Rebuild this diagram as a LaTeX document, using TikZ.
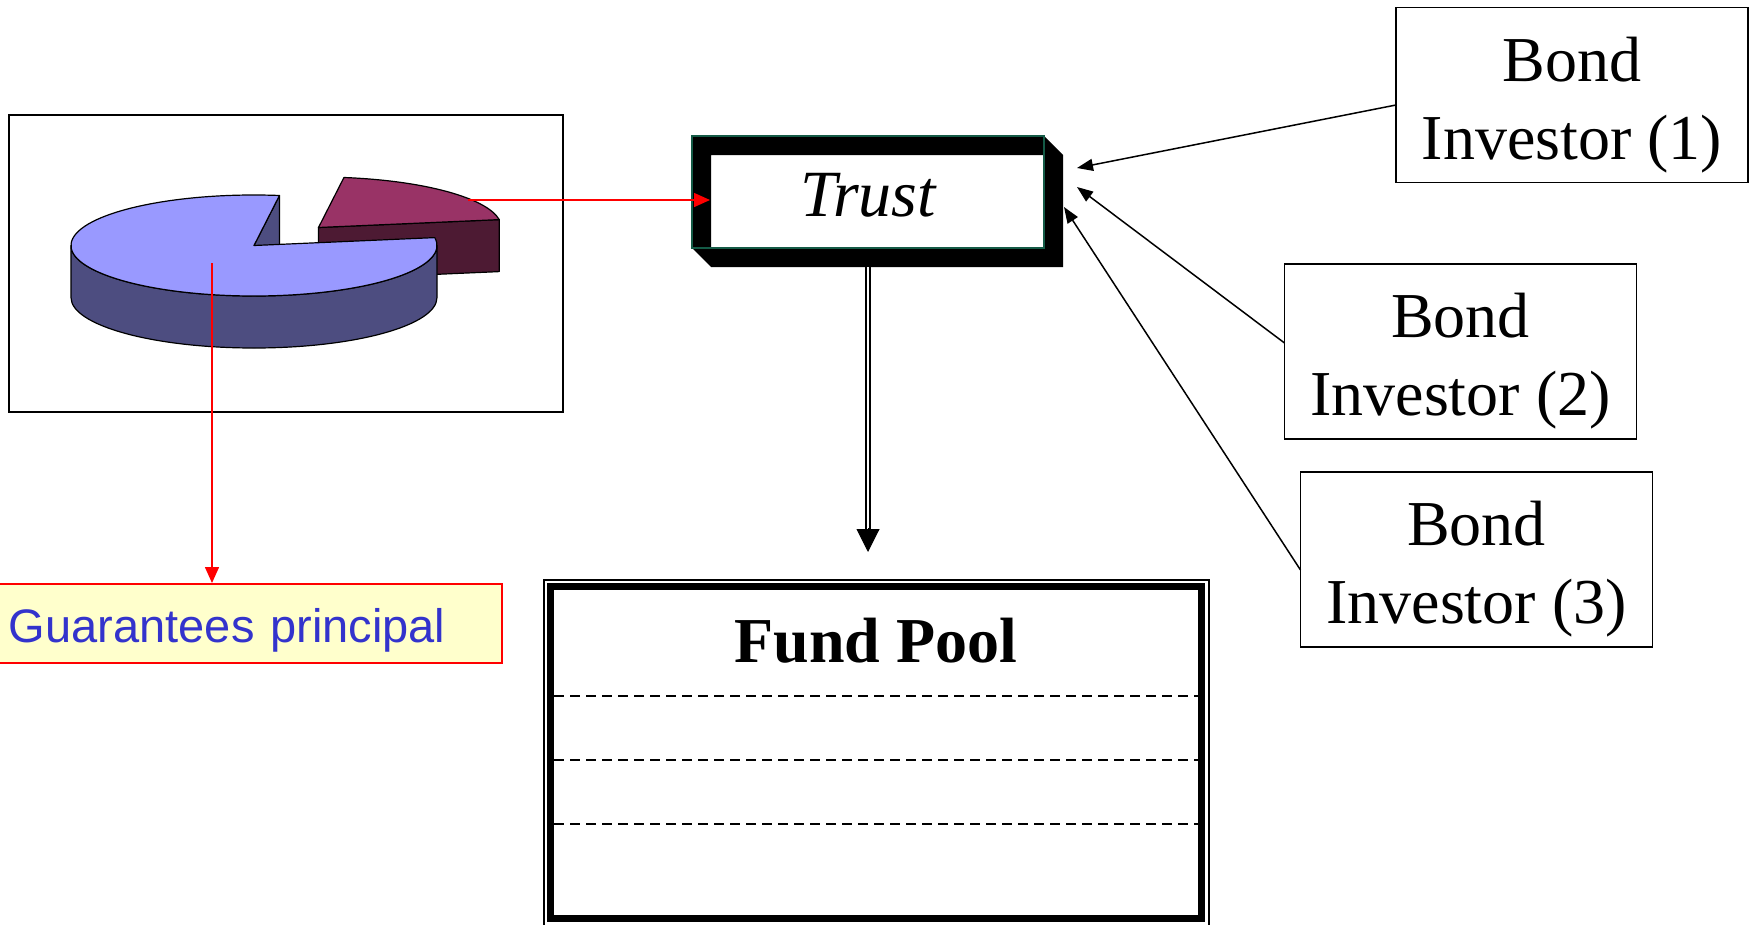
\documentclass[tikz,border=0pt]{standalone}
\usepackage{fontspec}
\setmainfont{Liberation Serif}
\newfontfamily\arialfont{Liberation Sans}
\usetikzlibrary{arrows.meta}

\definecolor{slicetop}{RGB}{153,153,255}
\definecolor{sliceside}{RGB}{77,77,128}
\definecolor{wedgetop}{RGB}{153,51,102}
\definecolor{wedgeside}{RGB}{77,26,51}
\definecolor{trustrim}{RGB}{20,90,70}
\definecolor{notefill}{RGB}{255,255,204}
\definecolor{notetext}{RGB}{51,51,204}

\tikzset{
  bigtext/.style={font=\fontsize{64}{78}\selectfont},
  chartframe/.style={draw, line width=1.2pt, minimum width=554pt, minimum height=297pt, inner sep=0pt, outer sep=0pt},
  investor/.style={draw, line width=1.5pt, minimum width=352pt, minimum height=175pt, inner sep=0pt, outer sep=0pt},
  investorlabel/.style={bigtext, align=center, inner sep=0pt},
  trustbox/.style={minimum width=352pt, minimum height=112pt, inner sep=0pt, outer sep=0pt,
    text height=48pt, text depth=0pt, font=\fontsize{66}{78}\selectfont\itshape},
  pool/.style={draw, line width=7pt, minimum width=651pt, minimum height=332pt, inner sep=0pt, outer sep=0pt},
  pooltitle/.style={anchor=base, inner sep=0pt, font=\fontsize{64}{78}\selectfont\bfseries},
  poolrule/.style={line width=2pt, dash pattern=on 10pt off 6pt},
  note/.style={draw=red, line width=2pt, fill=notefill, text=notetext, font=\arialfont\fontsize{47}{57}\selectfont,
    minimum height=79pt, text width=480pt, align=left, inner xsep=13pt, text height=37pt, text depth=0pt},
  redflow/.style={red, line width=1.5pt, -{Triangle[length=16pt,width=14pt]}},
  bondflow/.style={line width=1.5pt, -{Triangle[length=16pt,width=12pt]}},
  fundshaft/.style={line width=2pt, double, double distance=2.7pt},
  fundtip/.style={line width=1pt, -{Triangle[length=23pt,width=23pt]}},
}

\begin{document}
\begin{tikzpicture}[x=1pt,y=-1pt]
\useasboundingbox (0,0) rectangle (1754,924);

% chart with the pulled-out slice
\node[chartframe] (chart) at (286,263.5) {};
\begin{scope}[shift={(254,245.5)}, yscale=-1, line width=1.2pt, line join=round]
  \begin{scope}[shift={(64.5,18)}]
    \filldraw[fill=wedgeside] (0,0) -- (9:183 and 50.5) -- ++(0,-52) -- (0,-52) -- cycle;
    \filldraw[fill=wedgetop] (0,0) -- (9:183 and 50.5) arc[start angle=9, end angle=82, x radius=183, y radius=50.5] -- cycle;
  \end{scope}
  \filldraw[fill=sliceside] (0,0) -- (82:183 and 50.5) -- ++(0,-52) -- (0,-52) -- cycle;
  \filldraw[fill=sliceside] (-183,0) -- (-183,-52) arc[start angle=180, end angle=360, x radius=183, y radius=50.5]
    -- (183,0) arc[start angle=0, end angle=-180, x radius=183, y radius=50.5] -- cycle;
  \filldraw[fill=slicetop] (0,0) -- (82:183 and 50.5) arc[start angle=82, end angle=369, x radius=183, y radius=50.5] -- cycle;
\end{scope}
\coordinate (slicept) at (468,200);
\coordinate (piept) at (212,263);

\node[note, anchor=west] (guar) at (-5,623.5) {Guarantees principal};

% trust with its bevelled frame
\node[trustbox] (trust) at (868,192) {Trust};
\fill (trust.north west) -- (trust.north east) -- ++(0,19) -| ([shift={(19,0)}]trust.south west) -- (trust.south west) -- cycle;
\fill (trust.south west) -- ++(19,19) -| ([shift={(19,19)}]trust.north east) -- (trust.north east) -- (trust.south east) -- cycle;
\draw[trustrim, line width=1.5pt] (trust.north west) rectangle (trust.south east);
\coordinate (trustin) at (710,200);

% fund pool
\node[pool] (pool) at (876,752.5) {};
\draw[line width=2pt] ([shift={(-7,-7)}]pool.north west) rectangle ([shift={(7,7)}]pool.south east);
\node[pooltitle] (pooltitle) at ([shift={(0,75.5)}]pool.north) {Fund Pool};
\foreach \y in {696,760,824}
  \draw[poolrule] (554,\y) -- (1198,\y);
\coordinate (pooltip) at (868,552);

% bond investors
\node[investor] (inv1) at (1572,95) {};
\node[investor] (inv2) at (1460.5,351.5) {};
\node[investor] (inv3) at (1476.5,559.5) {};
\node[investorlabel] (inv1text) at ([shift={(0,10)}]inv1.center) {Bond\\Investor (1)};
\node[investorlabel] (inv2text) at ([shift={(0,10)}]inv2.center) {Bond\\Investor (2)};
\node[investorlabel] (inv3text) at ([shift={(0,10)}]inv3.center) {Bond\\Investor (3)};

% flows
\draw[redflow] (slicept) -- (trustin);
\draw[redflow] (piept) -- (piept |- guar.north);
\draw[fundshaft] ([shift={(0,19)}]trust.south) -- ([shift={(0,-22)}]pooltip);
\draw[fundtip] ([shift={(0,-24)}]pooltip) -- (pooltip);
\draw[bondflow] ([shift={(0,10)}]inv1.west) -- ([shift={(33,32)}]trust.north east);
\draw[bondflow] ([shift={(0,-8.5)}]inv2.west) -- ([shift={(33,51)}]trust.north east);
\draw[bondflow] ([shift={(0,10.5)}]inv3.west) -- ([shift={(20,71)}]trust.north east);
\end{tikzpicture}
\end{document}
